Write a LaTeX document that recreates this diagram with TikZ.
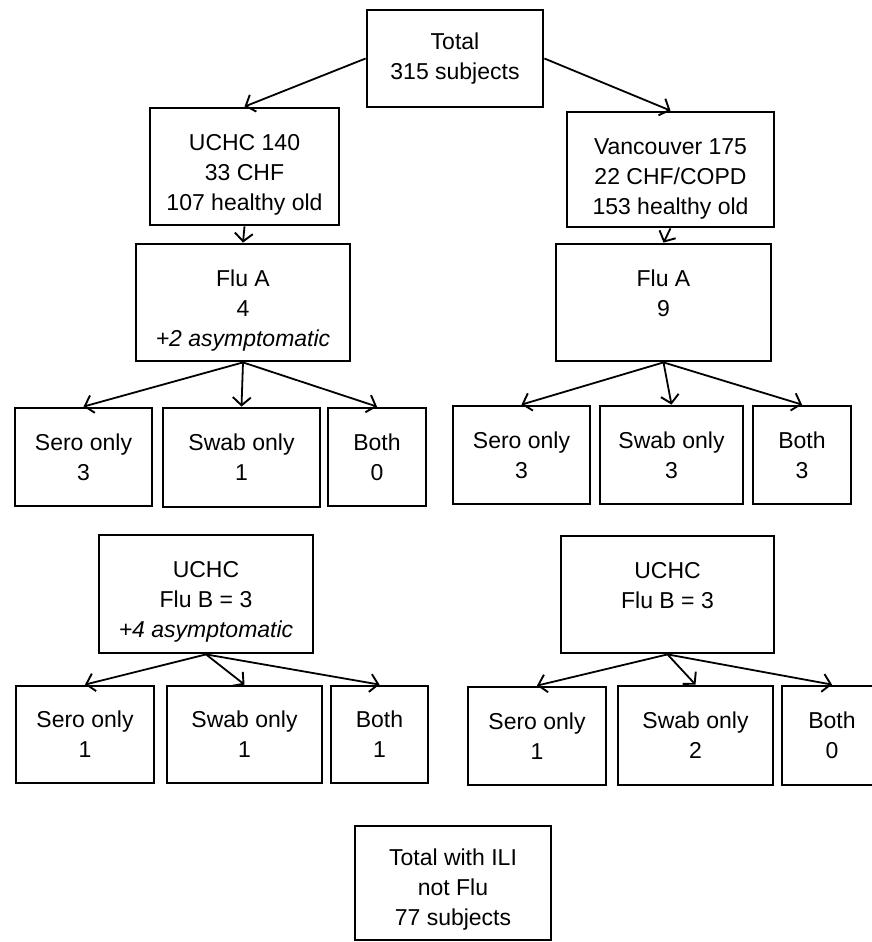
\documentclass[tikz,border=0pt]{standalone}
\usepackage{fontspec}
\setmainfont{Liberation Sans}
\usetikzlibrary{arrows.meta}

% taller first line, pushes the text of a box down
\newcommand\padtop[1]{\rule{0pt}{\dimexpr 16.5pt+#1\relax}}

\begin{document}
\begin{tikzpicture}[x=1pt, y=-1pt,
  box/.style={draw, line width=2.8pt, align=center, inner sep=0pt,
    font=\fontsize{23}{30}\selectfont},
  flow/.style={-{Straight Barb[length=8pt,width=18pt,line width=1.9pt]}, line width=1.8pt}]

  \useasboundingbox (0,0) rectangle (871,942);

  % top level
  \node[box, minimum width=176pt, minimum height=97pt] (total) at (455, 58.5)
  {Total\\315 subjects};
  \node[box, minimum width=189pt, minimum height=117pt] (uchc) at (244.5, 166.5)
  {\padtop{17pt}UCHC 140\\33 CHF\\107 healthy old};
  \node[box, minimum width=207pt, minimum height=115pt] (van) at (670.5, 169.5)
  {\padtop{19pt}Vancouver 175\\22 CHF/COPD\\153 healthy old};

  % flu A
  \node[box, minimum width=214pt, minimum height=117pt] (fluaL) at (243, 302.5)
  {\padtop{16pt}Flu A\\4\\\textit{+2 asymptomatic}};
  \node[box, minimum width=215pt, minimum height=117pt] (fluaR) at (663.5, 302.5)
  {\padtop{12pt}Flu A\\9\\~};

  \node[box, minimum width=137pt, minimum height=98pt] (seroAL) at (83.5, 457) {Sero only\\3};
  \node[box, minimum width=157pt, minimum height=99pt] (swabAL) at (241.5, 457.5) {Swab only\\1};
  \node[box, minimum width=98pt, minimum height=98pt] (bothAL) at (377, 457) {Both\\0};

  \node[box, minimum width=137pt, minimum height=98pt] (seroAR) at (521.5, 455) {Sero only\\3};
  \node[box, minimum width=143pt, minimum height=98pt] (swabAR) at (671.5, 455) {Swab only\\3};
  \node[box, minimum width=98pt, minimum height=98pt] (bothAR) at (802, 455) {Both\\3};

  % flu B
  \node[box, minimum width=214pt, minimum height=118pt] (flubL) at (206, 594)
  {\padtop{16pt}UCHC\\Flu B = 3\\\textit{+4 asymptomatic}};
  \node[box, minimum width=213pt, minimum height=117pt] (flubR) at (667.5, 594.5)
  {\padtop{12pt}UCHC\\Flu B = 3\\~};

  \node[box, minimum width=138pt, minimum height=97pt] (seroBL) at (85, 734.5) {Sero only\\1};
  \node[box, minimum width=155pt, minimum height=97pt] (swabBL) at (244.5, 734.5) {Swab only\\1};
  \node[box, minimum width=97pt, minimum height=97pt] (bothBL) at (379.5, 734.5) {Both\\1};

  \node[box, minimum width=138pt, minimum height=98pt] (seroBR) at (537, 736) {Sero only\\1};
  \node[box, minimum width=155pt, minimum height=99pt] (swabBR) at (695.5, 735.5) {Swab only\\2};
  \node[box, minimum width=100pt, minimum height=99pt] (bothBR) at (832, 735.5) {Both\\0};

  % not flu
  \node[box, minimum width=196pt, minimum height=114pt] (ili) at (453, 883)
  {\padtop{14pt}Total with ILI\\not Flu\\77 subjects};

  \draw[flow] (total.west) -- (uchc.north);
  \draw[flow] (total.east) -- (van.north);
  \draw[flow] (uchc.south) -- (fluaL.north);
  \draw[flow] (van.south) -- (fluaR.north);

  \draw[flow] (fluaL.south) -- (seroAL.north);
  \draw[flow] (fluaL.south) -- (swabAL.north);
  \draw[flow] (fluaL.south) -- (bothAL.north);
  \draw[flow] (fluaR.south) -- (seroAR.north);
  \draw[flow] (fluaR.south) -- (swabAR.north);
  \draw[flow] (fluaR.south) -- (bothAR.north);

  \draw[flow] (flubL.south) -- (seroBL.north);
  \draw[flow] (flubL.south) -- (swabBL.north);
  \draw[flow] (flubL.south) -- (bothBL.north);
  \draw[flow] (flubR.south) -- (seroBR.north);
  \draw[flow] (flubR.south) -- (swabBR.north);
  \draw[flow] (flubR.south) -- (bothBR.north);

\end{tikzpicture}
\end{document}
